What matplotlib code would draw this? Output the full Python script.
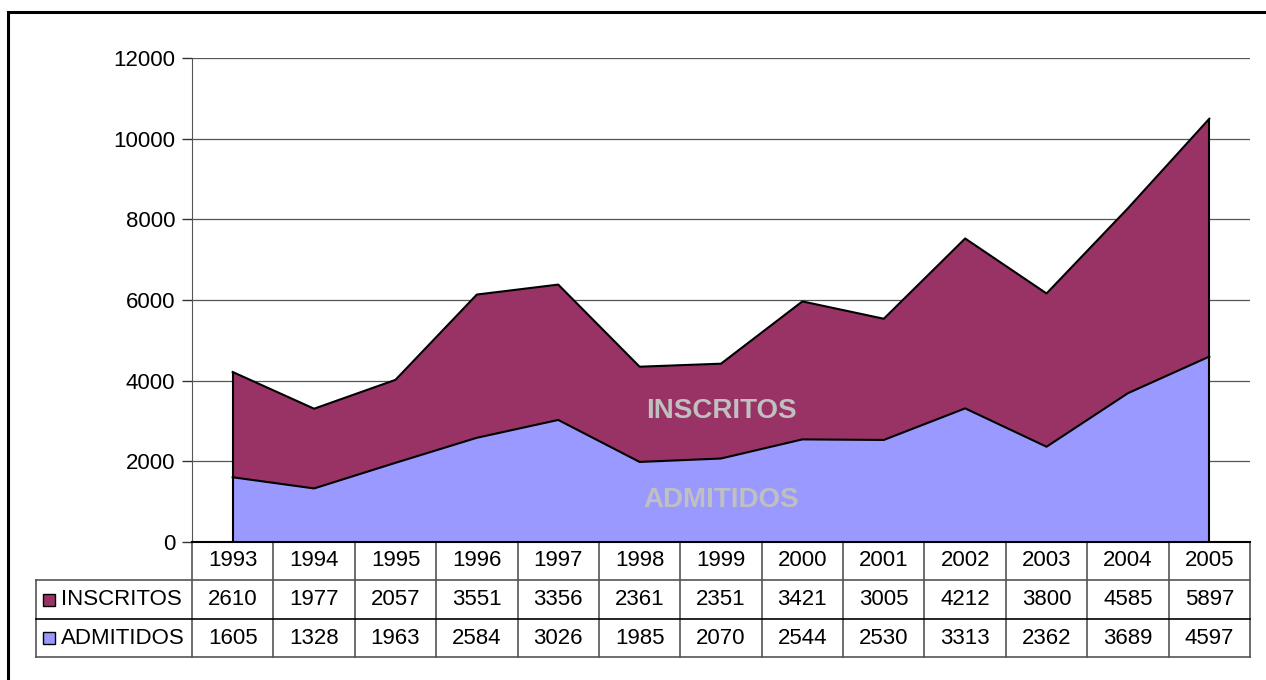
import matplotlib.pyplot as plt
from matplotlib.patches import Rectangle
from matplotlib.transforms import blended_transform_factory
import numpy as np

plt.rcParams['font.family'] = ['Liberation Sans', 'DejaVu Sans']

years = ['1993', '1994', '1995', '1996', '1997', '1998', '1999',
         '2000', '2001', '2002', '2003', '2004', '2005']
inscritos = [2610, 1977, 2057, 3551, 3356, 2361, 2351, 3421, 3005, 4212, 3800, 4585, 5897]
admitidos = [1605, 1328, 1963, 2584, 3026, 1985, 2070, 2544, 2530, 3313, 2362, 3689, 4597]

col_insc = '#993366'
col_adm = '#9999FF'
fs = 16

W, H = 1266, 680
fig = plt.figure(figsize=(W / 100, H / 100), dpi=100)
ax = fig.add_axes([192 / W, 1 - 542 / H, (1250 - 192) / W, (542 - 58) / H])

x = np.arange(len(years))
adm = np.array(admitidos)
total = adm + np.array(inscritos)

# stacked areas
ax.fill_between(x, 0, adm, facecolor=col_adm, edgecolor='none', zorder=2)
ax.fill_between(x, adm, total, facecolor=col_insc, edgecolor='none', zorder=2)
ax.plot(x, adm, color='black', lw=1.5, zorder=3)
ax.plot(x, total, color='black', lw=1.5, zorder=3)
ax.vlines([x[0], x[-1]], 0, [total[0], total[-1]], color='black', lw=1.5, zorder=3)

ax.text(6, 3250, 'INSCRITOS', color='#C0C0C0', fontsize=20, fontweight='bold',
        ha='center', va='center', zorder=4)
ax.text(6, 1040, 'ADMITIDOS', color='#C0C0C0', fontsize=20, fontweight='bold',
        ha='center', va='center', zorder=4)

ax.set_xlim(-0.5, len(years) - 0.5)
ax.set_ylim(0, 12000)
ax.set_yticks(range(0, 12001, 2000))
ax.tick_params(axis='y', labelsize=fs, length=7, width=1, color='#333333', pad=5)
ax.set_xticks([])
ax.grid(axis='y', color='#555555', lw=0.9, zorder=1)
ax.set_axisbelow(True)
for s in ['top', 'right']:
    ax.spines[s].set_visible(False)
ax.spines['left'].set_color('#555555')
ax.spines['bottom'].set_color('black')
ax.spines['bottom'].set_linewidth(1.5)

# data table under the plot
tr = blended_transform_factory(ax.transData, ax.transAxes)
ph = 542 - 58
r0, r1, r2, r3 = 0, -(580 - 542) / ph, -(619 - 542) / ph, -(657 - 542) / ph
xl = -0.5 - (192 - 36) / 81.4
xr = len(years) - 0.5
lc = '#555555'
kw = dict(transform=tr, clip_on=False, color=lc, lw=1.2)
for b in np.arange(-0.5, len(years), 1.0):
    ax.plot([b, b], [r0, r3], **kw)
ax.plot([xl, xl], [r1, r3], **kw)
ax.plot([xl, xr], [r1, r1], **kw)
ax.plot([xl, xr], [r2, r2], transform=tr, clip_on=False, color='black', lw=1.2)
ax.plot([xl, xr], [r3, r3], **kw)

for i, y in enumerate(years):
    ax.text(i, (r0 + r1) / 2, y, transform=tr, ha='center', va='center', fontsize=fs)
    ax.text(i, (r1 + r2) / 2, str(inscritos[i]), transform=tr, ha='center', va='center', fontsize=fs)
    ax.text(i, (r2 + r3) / 2, str(admitidos[i]), transform=tr, ha='center', va='center', fontsize=fs)

for (ya, yb), name, c in [((r1, r2), 'INSCRITOS', col_insc), ((r2, r3), 'ADMITIDOS', col_adm)]:
    ym = ax.transAxes.transform((0, (ya + yb) / 2))[1] / H
    fig.patches.append(Rectangle((43 / W, ym - 6 / H), 12 / W, 12 / H, transform=fig.transFigure,
                                 facecolor=c, edgecolor='black', lw=1))
    fig.text(61 / W, ym, name, ha='left', va='center', fontsize=fs)

# outer frame (runs off the right and bottom edges)
fig.patches.append(Rectangle((8 / W, -10 / H), (W + 20) / W, (H - 12 + 10) / H,
                             transform=fig.transFigure, fill=False, edgecolor='black', lw=2.2))

fig.savefig('out.png', dpi=100)
